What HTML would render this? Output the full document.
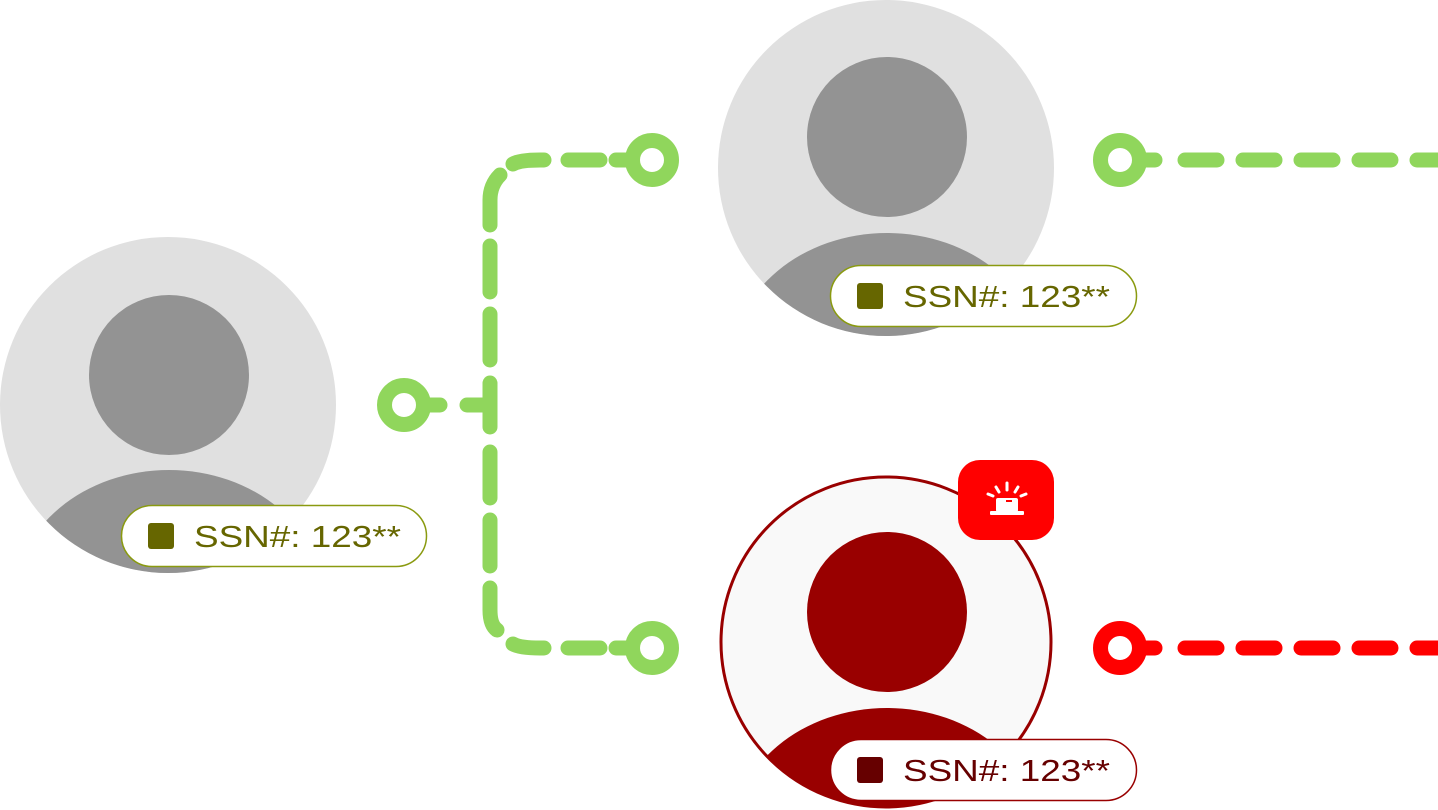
<!DOCTYPE html>
<html><head><meta charset="utf-8"><style>
html,body{margin:0;padding:0;background:#fff;width:1438px;height:810px;overflow:hidden}
svg{display:block}
text{font-family:"Liberation Sans",sans-serif}
</style></head><body>
<svg width="1438" height="810" viewBox="0 0 1438 810" xmlns="http://www.w3.org/2000/svg">
<defs>
<clipPath id="c1"><circle cx="168" cy="405" r="168"/></clipPath>
<clipPath id="c2"><circle cx="886" cy="168" r="168"/></clipPath>
<clipPath id="c3"><circle cx="886" cy="642" r="165"/></clipPath>
</defs>
<g fill="none" stroke="#90d65c" stroke-width="15" stroke-linecap="round">
<circle cx="404" cy="405" r="19.5"/>
<line x1="424" y1="405" x2="440" y2="405"/>
<line x1="467" y1="405" x2="490" y2="405"/>
<line x1="490" y1="383" x2="490" y2="427"/>
<line x1="490" y1="314" x2="490" y2="360"/>
<line x1="490" y1="246" x2="490" y2="292"/>
<path d="M490 225 L490 200 Q490 185 500 175"/>
<path d="M513 164 Q520 160 540 160 L544 160"/>
<line x1="568" y1="160" x2="600" y2="160"/>
<line x1="616" y1="160" x2="632" y2="160"/>
<circle cx="652" cy="160" r="19.5"/>
<line x1="490" y1="452" x2="490" y2="498"/>
<line x1="490" y1="520" x2="490" y2="566"/>
<path d="M490 588 L490 610 Q490 625 497 630"/>
<path d="M513 644 Q520 648 540 648 L544 648"/>
<line x1="568" y1="648" x2="600" y2="648"/>
<line x1="616" y1="648" x2="632" y2="648"/>
<circle cx="652" cy="648" r="19.5"/>
<circle cx="1120" cy="160" r="19.5"/>
<line x1="1140" y1="160" x2="1155" y2="160"/>
<line x1="1185" y1="160" x2="1217" y2="160"/>
<line x1="1243" y1="160" x2="1275" y2="160"/>
<line x1="1301" y1="160" x2="1333" y2="160"/>
<line x1="1359" y1="160" x2="1391" y2="160"/>
<line x1="1417" y1="160" x2="1445" y2="160"/>
</g>
<g fill="none" stroke="#ff0000" stroke-width="15" stroke-linecap="round">
<circle cx="1120" cy="648" r="19.5"/>
<line x1="1140" y1="648" x2="1155" y2="648"/>
<line x1="1185" y1="648" x2="1217" y2="648"/>
<line x1="1243" y1="648" x2="1275" y2="648"/>
<line x1="1301" y1="648" x2="1333" y2="648"/>
<line x1="1359" y1="648" x2="1391" y2="648"/>
<line x1="1417" y1="648" x2="1445" y2="648"/>
</g>
<circle cx="168" cy="405" r="168" fill="#e0e0e0"/>
<circle cx="169" cy="375" r="80" fill="#939393"/>
<ellipse cx="169" cy="600" rx="155" ry="130" fill="#939393" clip-path="url(#c1)"/>
<circle cx="886" cy="168" r="168" fill="#e0e0e0"/>
<circle cx="887" cy="137" r="80" fill="#939393"/>
<ellipse cx="887" cy="363" rx="155" ry="130" fill="#939393" clip-path="url(#c2)"/>
<circle cx="886" cy="642" r="165" fill="#f9f9f9"/>
<circle cx="887" cy="612" r="80" fill="#990000"/>
<ellipse cx="887" cy="838" rx="155" ry="130" fill="#990000" clip-path="url(#c3)"/>
<circle cx="886" cy="642" r="165" fill="none" stroke="#990000" stroke-width="3"/>
<rect x="958" y="460" width="96" height="80" rx="22" fill="#ff0000"/>
<g fill="#fff" stroke="#fff" stroke-linecap="round">
<rect x="996" y="498" width="22" height="14" rx="2" stroke="none"/>
<rect x="990" y="511" width="34" height="4" rx="1" stroke="none"/>
<line x1="1007" y1="483" x2="1007" y2="490" stroke-width="3"/>
<line x1="996" y1="487" x2="999" y2="492" stroke-width="3"/>
<line x1="1018" y1="487" x2="1015" y2="492" stroke-width="3"/>
<line x1="988" y1="494" x2="993" y2="496" stroke-width="3"/>
<line x1="1026" y1="494" x2="1021" y2="496" stroke-width="3"/>
</g>
<rect x="1006" y="500" width="6" height="2" fill="#ff0000"/>
<rect x="121.5" y="505.5" width="305" height="61" rx="30.5" fill="#fff" stroke="#8a9a10" stroke-width="1.5"/>
<rect x="148" y="523" width="26" height="26" rx="3" fill="#666600"/>
<text x="194" y="547" font-size="31" fill="#666600" textLength="207" lengthAdjust="spacingAndGlyphs">SSN#: 123**</text>
<rect x="830.5" y="265.5" width="306" height="61" rx="30.5" fill="#fff" stroke="#8a9a10" stroke-width="1.5"/>
<rect x="857" y="283" width="26" height="26" rx="3" fill="#666600"/>
<text x="903" y="307" font-size="31" fill="#666600" textLength="207" lengthAdjust="spacingAndGlyphs">SSN#: 123**</text>
<rect x="830.5" y="739.5" width="306" height="61" rx="30.5" fill="#fff" stroke="#990000" stroke-width="1.5"/>
<rect x="857" y="757" width="26" height="26" rx="3" fill="#660000"/>
<text x="903" y="781" font-size="31" fill="#660000" textLength="207" lengthAdjust="spacingAndGlyphs">SSN#: 123**</text>
</svg>
</body></html>
